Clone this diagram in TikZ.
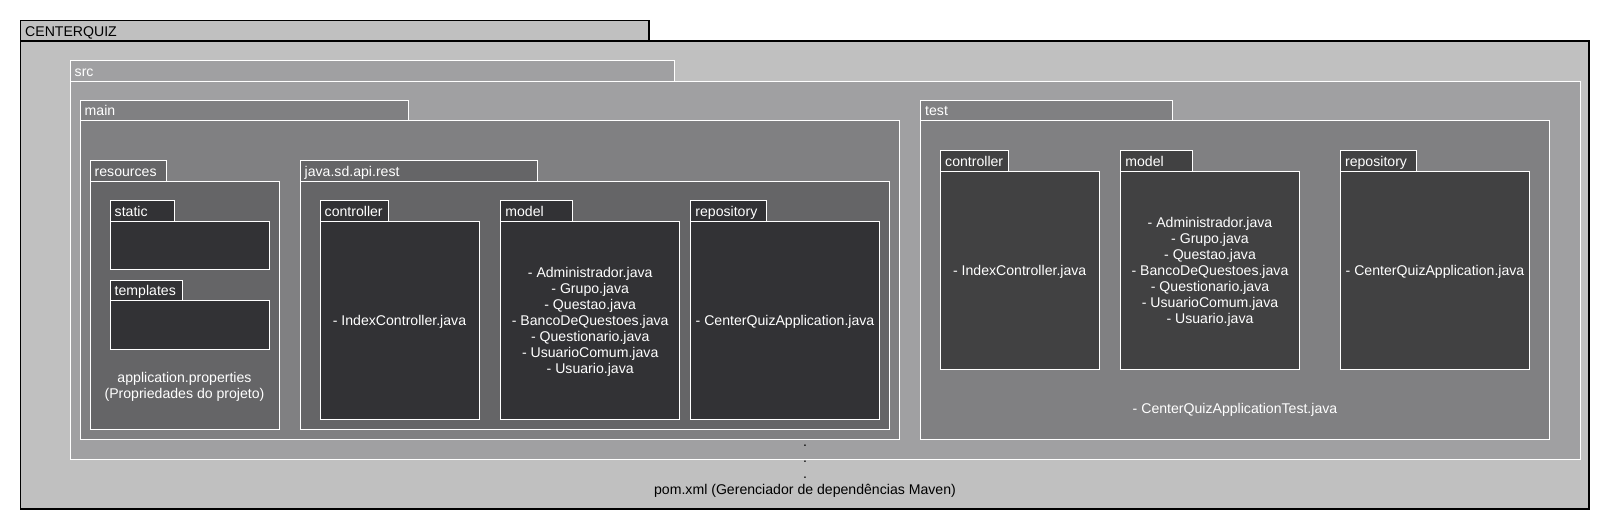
\documentclass[tikz,border=0pt]{standalone}
\usepackage{fontspec}
\setmainfont{Liberation Sans}
\definecolor{lvlA}{HTML}{C0C0C0}
\definecolor{lvlB}{HTML}{A0A0A2}
\definecolor{lvlC}{HTML}{808082}
\definecolor{lvlD}{HTML}{656567}
\definecolor{lvlE}{HTML}{323235}
\definecolor{lvlF}{HTML}{414142}
% #1 name, #2 left, #3 tab top, #4 tab right, #5 right, #6 bottom, #7 style, #8 text colour, #9 label
\newcommand\pkgbox[9]{%
  \draw[#7] (#2,{#3+20.5}) rectangle (#5,#6);
  \draw[#7] (#2,#3) rectangle (#4,{#3+20.5});
  \node[anchor=base west,text=#8] (#1) at ({#2+4.5},{#3+15.5}) {#9};
}
\begin{document}
\begin{tikzpicture}[x=1pt,y=-1pt,
  every node/.style={font=\fontsize{14.1}{16}\selectfont, inner sep=0pt},
  outerpkg/.style={fill=lvlA,draw=black,line width=1.5pt},
  srcpkg/.style={fill=lvlB,draw=white,line width=1pt},
  midpkg/.style={fill=lvlC,draw=white,line width=1pt},
  subpkg/.style={fill=lvlD,draw=white,line width=1pt},
  leafpkg/.style={fill=lvlE,draw=white,line width=1pt},
  testleaf/.style={fill=lvlF,draw=white,line width=1pt},
  content/.style={text=white,align=center}]
\useasboundingbox[fill=white] (0,0) rectangle (1610,530);

\pkgbox{centerquiz}{20.5}{20.5}{649}{1589}{509}{outerpkg}{black}{CENTERQUIZ}
\pkgbox{src}{70}{60.7}{674}{1580}{459.3}{srcpkg}{white}{src}
\pkgbox{main}{80}{100.3}{408.5}{899.5}{439}{midpkg}{white}{main}
\pkgbox{test}{920.5}{100.3}{1172}{1549.5}{439}{midpkg}{white}{test}

\pkgbox{resources}{90}{160.7}{166}{279}{429.3}{subpkg}{white}{resources}
\pkgbox{static}{110}{200.7}{174}{269}{269}{leafpkg}{white}{static}
\pkgbox{templates}{110}{280.3}{182}{269}{349}{leafpkg}{white}{templates}
\node[content] (props) at (184.5,386.5) {application.properties\\(Propriedades do projeto)};

\pkgbox{javapkg}{300}{160.7}{537}{889.3}{429.3}{subpkg}{white}{java.sd.api.rest}
\pkgbox{mcontroller}{320}{200.7}{388}{479}{419.3}{leafpkg}{white}{controller}
\pkgbox{mmodel}{500.7}{200.7}{572.3}{679.7}{419.3}{leafpkg}{white}{model}
\pkgbox{mrepository}{690.7}{200.7}{766.3}{879.3}{419.3}{leafpkg}{white}{repository}
\node[content] (mctext) at (399.5,321.5) {- IndexController.java};
\node[content] (mmtext) at (590.2,322) {- Administrador.java\\- Grupo.java\\- Questao.java\\- BancoDeQuestoes.java\\- Questionario.java\\- UsuarioComum.java\\- Usuario.java};
\node[content] (mrtext) at (785,321.5) {- CenterQuizApplication.java};

\pkgbox{tcontroller}{940.5}{150.7}{1008.5}{1099}{369.3}{testleaf}{white}{controller}
\pkgbox{tmodel}{1120.7}{150.7}{1192}{1299.5}{369.3}{testleaf}{white}{model}
\pkgbox{trepository}{1340.4}{150.7}{1416.3}{1529.4}{369.3}{testleaf}{white}{repository}
\node[content] (tctext) at (1019.7,271.8) {- IndexController.java};
\node[content] (tmtext) at (1210,272) {- Administrador.java\\- Grupo.java\\- Questao.java\\- BancoDeQuestoes.java\\- Questionario.java\\- UsuarioComum.java\\- Usuario.java};
\node[content] (trtext) at (1435,271.8) {- CenterQuizApplication.java};
\node[content] (ttest) at (1235,409.8) {- CenterQuizApplicationTest.java};

\node[align=center,text=black] (pom) at (805,471.7) {.\\.\\.\\pom.xml (Gerenciador de dependências Maven)};
\end{tikzpicture}
\end{document}
